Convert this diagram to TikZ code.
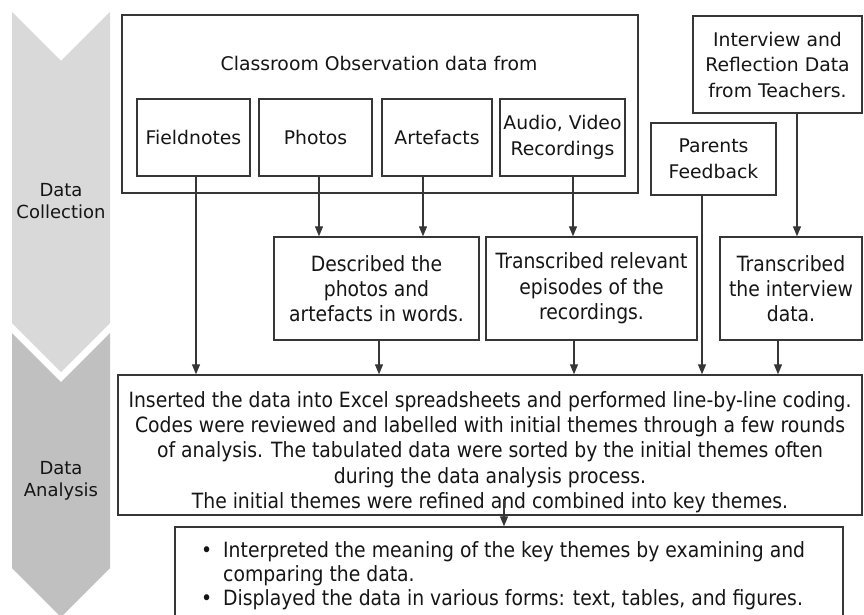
\documentclass[tikz,border=0pt]{standalone}
\usepackage{fontspec}
\setmainfont{DejaVu Sans}
\newfontfamily\condf[FakeStretch=0.895]{DejaVu Sans}
\usetikzlibrary{arrows.meta}
\definecolor{linec}{HTML}{363636}
\definecolor{txt}{HTML}{151515}
\definecolor{chevA}{HTML}{D9D9D9}
\definecolor{chevB}{HTML}{C0C0C0}
\begin{document}
\begin{tikzpicture}[x=1pt,y=-1pt,
  box/.style={draw=linec, line width=1.4pt, inner sep=0pt, text=txt},
  topt/.style={font=\fontsize{18.8}{25.5}\selectfont, align=center, text=txt},
  lowt/.style={font=\condf\fontsize{21}{25.3}\selectfont, align=center, text=txt},
  bult/.style={font=\condf\fontsize{21}{24}\selectfont, text=txt, anchor=base west, inner sep=0pt},
  side/.style={font=\fontsize{18}{22}\selectfont, align=center, text=txt},
  arr/.style={draw=linec, line width=1.2pt, -{Triangle[length=10pt,width=8pt]}}]
\useasboundingbox (0,0) rectangle (864,615);
% chevrons
\fill[chevA] (12,12) -- (61,61) -- (110,12) -- (110,323) -- (61,372) -- (12,323) -- cycle;
\fill[chevB] (12,333) -- (61,382) -- (110,333) -- (110,568) -- (61,617) -- (12,568) -- cycle;
\node[side] (dc) at (61,201) {Data\\Collection};
\node[side] (da) at (61,481) {Data\\Analysis};
% top boxes
\node[box, minimum width=516, minimum height=178] (obs) at (380,104) {};
\node[topt] (obst) at (379,63) {Classroom Observation data from};
\node[box, topt, minimum width=113, minimum height=77] (fn) at (193.5,137.5) {Fieldnotes};
\node[box, topt, minimum width=113, minimum height=77] (ph) at (315.5,137.5) {Photos};
\node[box, topt, minimum width=110, minimum height=77] (ar) at (437,137.5) {Artefacts};
\node[box, topt, minimum width=125, minimum height=77] (av) at (562.5,137.5) {Audio, Video\\Recordings};
\node[box, topt, minimum width=125, minimum height=72] (pf) at (713.5,159) {Parents\\Feedback};
\node[box, topt, minimum width=169, minimum height=97] (iv) at (777.5,64.5) {Interview and\\Reflection Data\\from Teachers.};
% middle boxes
\node[box, lowt, minimum width=205, minimum height=103] (ds) at (376.5,288.5) {Described the\\photos and\\artefacts in words.};
\node[box, lowt, minimum width=211, minimum height=103] (tr) at (591.5,288.5) {Transcribed relevant\\episodes of the\\recordings.};
\node[box, lowt, minimum width=142, minimum height=103] (ti) at (791,288.5) {Transcribed\\the interview\\data.};
% big box
\node[box, minimum width=744, minimum height=140] (big) at (490,445) {};
\node[lowt, inner sep=0pt] (bigt) at (490,452) {Inserted the data into Excel spreadsheets and performed line-by-line coding.\\Codes were reviewed and labelled with initial themes through a few rounds\\of analysis. The tabulated data were sorted by the initial themes often\\during the data analysis process.\\The initial themes were refined and combined into key themes.};
% bottom box
\node[box, minimum width=668, minimum height=110] (bt) at (509,582) {};
\node[bult] (b1t) at (201,557) {\makebox[22pt][l]{•}Interpreted the meaning of the key themes by examining and};
\node[bult] (b2t) at (223,581) {comparing the data.};
\node[bult] (b3t) at (201,605) {\makebox[22pt][l]{•}Displayed the data in various forms: text, tables, and figures.};
% connectors
\coordinate (f1) at ([xshift=2.5]fn.south);
\coordinate (p1) at ([xshift=3.5]ph.south);
\coordinate (a1) at ([xshift=-14]ar.south);
\coordinate (v1) at ([xshift=10.5]av.south);
\coordinate (i1) at ([xshift=19.5]iv.south);
\coordinate (q1) at ([xshift=-11.5]pf.south);
\coordinate (d1) at ([xshift=2.5]ds.south);
\coordinate (t1) at ([xshift=-17.5]tr.south);
\coordinate (n1) at ([xshift=-13]ti.south);
\coordinate (g1) at (504,499);
\draw[arr] (f1) -- (f1 |- big.north);
\draw[arr] (p1) -- (p1 |- ds.north);
\draw[arr] (a1) -- (a1 |- ds.north);
\draw[arr] (v1) -- (v1 |- tr.north);
\draw[arr] (i1) -- (i1 |- ti.north);
\draw[arr] (q1) -- (q1 |- big.north);
\draw[arr] (d1) -- (d1 |- big.north);
\draw[arr] (t1) -- (t1 |- big.north);
\draw[arr] (n1) -- (n1 |- big.north);
\draw[arr] (g1) -- (g1 |- bt.north);
\end{tikzpicture}
\end{document}
